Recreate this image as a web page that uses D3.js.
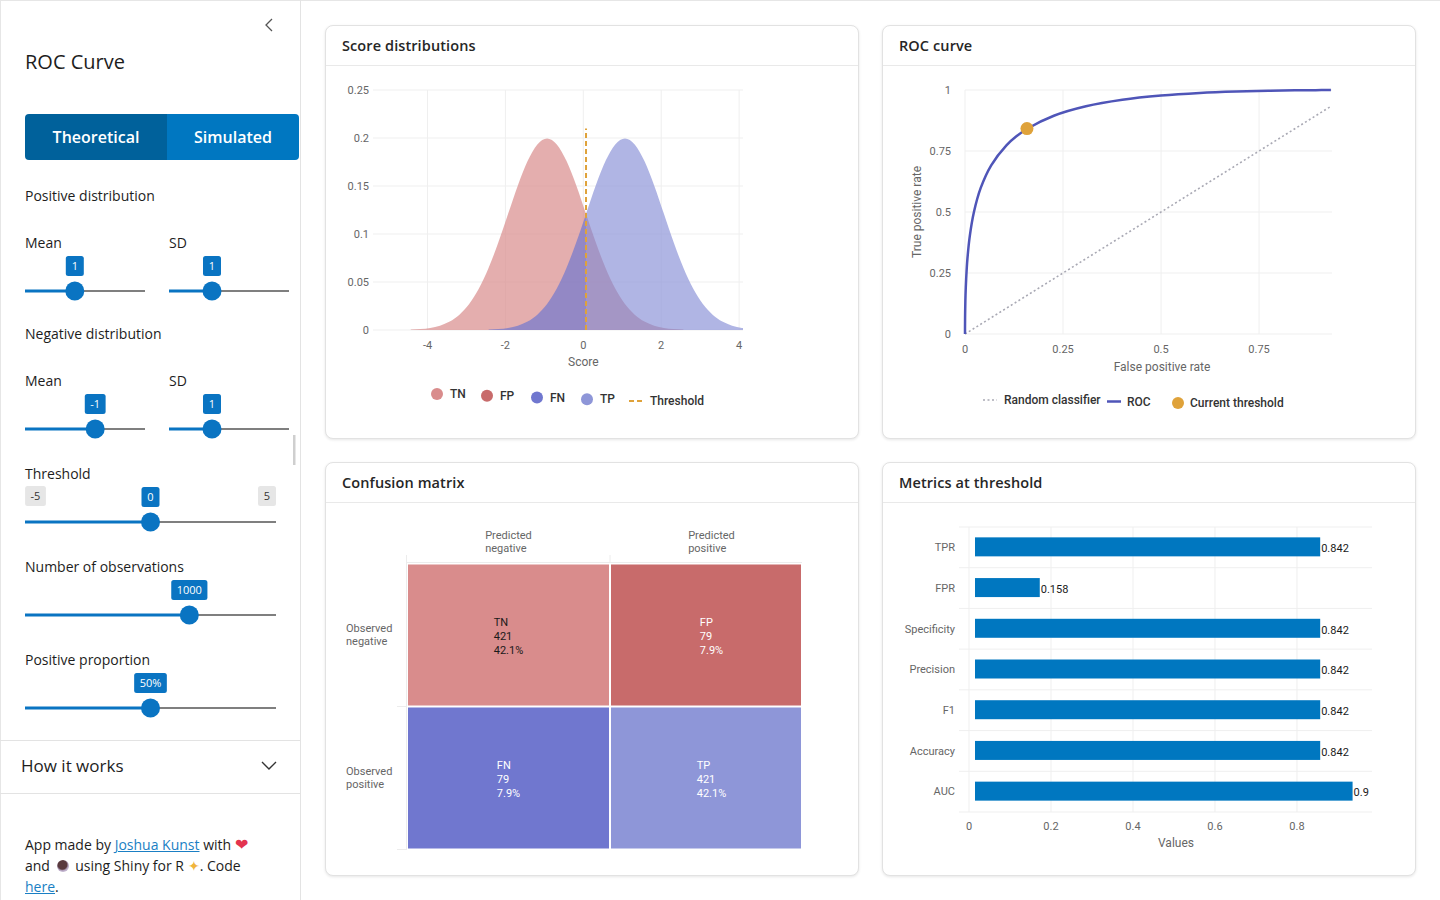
<!DOCTYPE html>
<html>
<head>
<meta charset="utf-8">
<script src="https://cdn.jsdelivr.net/npm/d3@7"></script>
<style>
body { margin:0; width:1440px; height:900px; overflow:hidden; background:#fff; font-family:"Open Sans", sans-serif; color:#1d1d1d; position:relative; }
#frame { position:absolute; left:0; top:0; width:1440px; height:900px; border-top:1px solid #e6e6e6; border-left:1px solid #e6e6e6; box-sizing:border-box; }
#sidebar { position:absolute; left:0; top:0; width:301px; height:900px; border-right:1px solid #e3e3e3; box-sizing:border-box; }
.card { position:absolute; width:534px; height:414px; border:1px solid #e2e2e2; border-radius:8px; box-shadow:0 1px 3px rgba(0,0,0,0.10); background:#fff; box-sizing:border-box; }
.card .hd { height:39px; border-bottom:1px solid #e9e9e9; padding-left:16px; line-height:40px; font-size:14.5px; font-weight:600; color:#262626; letter-spacing:0.1px; }
.btns { position:absolute; left:25px; top:114px; height:46px; display:flex; border-radius:4px; overflow:hidden; }
.btns div { height:46px; line-height:46px; text-align:center; color:#fff; font-size:16px; font-weight:600; }
#foot { position:absolute; left:25px; top:834px; font-size:14px; line-height:21px; color:#1d1d1d; }
#foot a { color:#1a7fc4; text-decoration:underline; }
.heart { color:#e3344f; font-size:16px; }
.cup { display:inline-block; width:12px; height:12px; border-radius:50%; background:radial-gradient(circle at 45% 40%, #5a3a3e 0 45%, #b9a9c6 60%, #e0d8e8 100%); vertical-align:-1px; margin:0 3px; }
#ov { position:absolute; left:0; top:0; }
</style>
</head>
<body>
<div id="frame"></div>
<div id="sidebar"></div>
<div class="btns"><div style="width:142px;background:#00619b">Theoretical</div><div style="width:132px;background:#0077c1">Simulated</div></div>
<div class="card" style="left:325px;top:25px"><div class="hd">Score distributions</div></div>
<div class="card" style="left:882px;top:25px"><div class="hd">ROC curve</div></div>
<div class="card" style="left:325px;top:462px"><div class="hd">Confusion matrix</div></div>
<div class="card" style="left:882px;top:462px"><div class="hd">Metrics at threshold</div></div>
<div id="foot">App made by <a>Joshua Kunst</a> with <span class="heart">&#10084;</span><br>and <span class="cup"></span> using Shiny for R <span style="color:#f0b43c">&#10022;</span>. Code<br><a>here</a>.</div>
<svg id="ov" width="1440" height="900"></svg>
<script>
// score densities (half weight each)
var negScore = [-4.5,-4.25,-4,-3.75,-3.5,-3.25,-3,-2.75,-2.5,-2.25,-2,-1.75,-1.5,-1.25,-1,-0.75,-0.5,-0.25,0,0.25,0.5,0.75,1,1.25,1.5,1.75,2,2.25,2.5];
var negDensity = [0.0004,0.0010,0.0022,0.0045,0.0088,0.0159,0.0270,0.0431,0.0648,0.0913,0.1210,0.1506,0.1760,0.1933,0.1995,0.1933,0.1760,0.1506,0.1210,0.0913,0.0648,0.0431,0.0270,0.0159,0.0088,0.0045,0.0022,0.0010,0.0004];
var posScore = [-2.5,-2.25,-2,-1.75,-1.5,-1.25,-1,-0.75,-0.5,-0.25,0,0.25,0.5,0.75,1,1.25,1.5,1.75,2,2.25,2.5,2.75,3,3.25,3.5,3.75,4,4.25,4.5];
var posDensity = [0.0004,0.0010,0.0022,0.0045,0.0088,0.0159,0.0270,0.0431,0.0648,0.0913,0.1210,0.1506,0.1760,0.1933,0.1995,0.1933,0.1760,0.1506,0.1210,0.0913,0.0648,0.0431,0.0270,0.0159,0.0088,0.0045,0.0022,0.0010,0.0004];
var threshold = 0;
var thresholdTop = 0.21;
var scoreTicksX = [-4,-2,0,2,4];
var scoreTicksY = [0,0.05,0.1,0.15,0.2,0.25];
var scoreLegend = ["TN","FP","FN","TP","Threshold"];

// roc curve
var rocFpr = [0,0.0000,0.0000,0.0002,0.0013,0.0030,0.0062,0.0122,0.0228,0.0401,0.0668,0.1056,0.1303,0.1587,0.2266,0.3085,0.4013,0.5,0.5987,0.6915,0.7734,0.8413,0.8944,0.9332];
var rocTpr = [0,0.0062,0.0228,0.0668,0.1587,0.2266,0.3085,0.4013,0.5,0.5987,0.6915,0.7734,0.8092,0.8413,0.8944,0.9332,0.9599,0.9772,0.9878,0.9938,0.9970,0.9987,0.9994,0.9998];
var randomLine = [0, 0.9332];
var currentPoint = [0.158, 0.842];
var rocTicksX = [0,0.25,0.5,0.75];
var rocTicksY = [0,0.25,0.5,0.75,1];

// confusion matrix
var cmNames = ["TN","FP","FN","TP"];
var cmCounts = [421,79,79,421];
var cmShares = ["42.1%","7.9%","7.9%","42.1%"];
var cmCols = [0,1,0,1];
var cmRows = [0,0,1,1];
var cmColNames = [["Predicted","negative"],["Predicted","positive"]];
var cmRowNames = [["Observed","negative"],["Observed","positive"]];

// metrics
var metricNames = ["TPR","FPR","Specificity","Precision","F1","Accuracy","AUC"];
var metricValues = [0.842,0.158,0.842,0.842,0.842,0.842,0.921];
var metricLabels = ["0.842","0.158","0.842","0.842","0.842","0.842","0.9"];
var metricTicks = [0,0.2,0.4,0.6,0.8];

// sidebar sliders
var sliderValues = [1,1,-1,1,0,1000,50];
var sliderMins = [-1,0.5,-4,0.5,-5,0,0];
var sliderMaxs = [4,2,1,2,5,1500,100];
var sliderTexts = ["1","1","-1","1","0","1000","50%"];

var colors = {TN:"#d98c8c", FP:"#c86b6b", FN:"#7077cf", TP:"#8e96d8", thr:"#dfa23a", roc:"#4f55b8", bar:"#0077c0", blue:"#0a74c2"};
var svg = d3.select("#ov");
var defs = svg.append("defs");
var chartFont = "Roboto, sans-serif";
var fmt = function(d){ return String(+d.toFixed(2)); };

// multi-line text, lines left aligned, block centred on cx (or starting at cx)
function block(g, lines, cx, y0, step, centred, fill){
  var t = g.append("text").attr("font-size",11).attr("fill",fill);
  lines.forEach(function(s,j){ t.append("tspan").attr("x",0).attr("y",y0+j*step).attr("dy",".35em").text(s); });
  var w = t.node().getBBox().width;
  t.selectAll("tspan").attr("x", centred ? cx-w/2 : cx);
  return t;
}

/* ---------- sidebar ---------- */
var side = svg.append("g").attr("font-family","Open Sans, sans-serif").attr("fill","#1d1d1d");
side.append("path").attr("d","M272,19L266,25L272,31").attr("fill","none").attr("stroke","#555").attr("stroke-width",1.3);
side.append("text").attr("x",25).attr("y",62).attr("dy",".35em").attr("font-size",20).text("ROC Curve");
var sideLabels = [["Positive distribution",25,196],["Mean",25,243],["SD",169,243],["Negative distribution",25,334],["Mean",25,381],["SD",169,381],["Threshold",25,474],["Number of observations",25,567],["Positive proportion",25,660]];
side.selectAll("text.lab").data(sideLabels).enter().append("text").attr("class","lab")
  .attr("x",function(d){return d[1];}).attr("y",function(d){return d[2];}).attr("dy",".35em")
  .attr("font-size",14).text(function(d){return d[0];});

var sliderBoxes = [[25,145,291],[169,289,291],[25,145,429],[169,289,429],[25,276,522],[25,276,615],[25,276,708]];
function bubble(g, cx, cy, txt, fill, tc){
  var t = g.append("text").attr("x",cx).attr("y",cy).attr("dy",".35em").attr("text-anchor","middle")
    .attr("font-size",11).attr("fill",tc).text(txt);
  var w = Math.max(18, t.node().getComputedTextLength()+11);
  g.insert("rect","text:last-child").attr("x",cx-w/2).attr("y",cy-10).attr("width",w).attr("height",20).attr("rx",2.5).attr("fill",fill);
}
sliderValues.forEach(function(v,i){
  var b = sliderBoxes[i];
  var sc = d3.scaleLinear().domain([sliderMins[i],sliderMaxs[i]]).range([b[0]+9,b[1]-9]);
  var hx = sc(v);
  var g = side.append("g");
  g.append("line").attr("x1",hx).attr("x2",b[1]).attr("y1",b[2]).attr("y2",b[2]).attr("stroke","#555").attr("stroke-width",1.3);
  g.append("line").attr("x1",b[0]).attr("x2",hx).attr("y1",b[2]).attr("y2",b[2]).attr("stroke",colors.blue).attr("stroke-width",3.2);
  g.append("circle").attr("cx",hx).attr("cy",b[2]).attr("r",9.5).attr("fill",colors.blue);
  if (i === 4) {
    bubble(g.append("g"), b[0]+10.5, b[2]-26, String(sliderMins[i]), "#e6e6e6", "#333");
    bubble(g.append("g"), b[1]-9, b[2]-26, String(sliderMaxs[i]), "#e6e6e6", "#333");
  }
  bubble(g.append("g"), hx, b[2]-25, sliderTexts[i], colors.blue, "#fff");
});
side.append("rect").attr("x",293).attr("y",435).attr("width",2.5).attr("height",30).attr("fill","#cfcfcf");
side.append("line").attr("x1",0).attr("x2",300).attr("y1",740.5).attr("y2",740.5).attr("stroke","#e3e3e3");
side.append("line").attr("x1",0).attr("x2",300).attr("y1",793.5).attr("y2",793.5).attr("stroke","#e3e3e3");
side.append("text").attr("x",21).attr("y",766).attr("dy",".35em").attr("font-size",17).text("How it works");
side.append("path").attr("d","M262,762L269,769L276,762").attr("fill","none").attr("stroke","#333").attr("stroke-width",1.4);

/* ---------- score distributions ---------- */
var sx = d3.scaleLinear().domain([-5.4,4.1]).range([373,743]);
var sy = d3.scaleLinear().domain([0,0.25]).range([330,90]);
var dataShift = 2.7; // series sit a little right of the tick labels
var sc1 = svg.append("g").attr("font-family",chartFont);
sc1.selectAll("line.gy").data(scoreTicksY).enter().append("line")
  .attr("x1",373).attr("x2",743).attr("y1",function(d){return sy(d);}).attr("y2",function(d){return sy(d);})
  .attr("stroke","#efefef");
sc1.selectAll("line.gx").data(scoreTicksX).enter().append("line")
  .attr("y1",90).attr("y2",330).attr("x1",function(d){return sx(d);}).attr("x2",function(d){return sx(d);})
  .attr("stroke","#efefef");
sc1.selectAll("text.ty").data(scoreTicksY).enter().append("text")
  .attr("x",369).attr("y",function(d){return sy(d);}).attr("dy",".35em").attr("text-anchor","end")
  .attr("font-size",11).attr("fill","#666").text(fmt);
sc1.selectAll("text.tx").data(scoreTicksX).enter().append("text")
  .attr("x",function(d){return sx(d);}).attr("y",345).attr("dy",".35em").attr("text-anchor","middle")
  .attr("font-size",11).attr("fill","#666").text(fmt);
sc1.append("text").attr("x",sx(0)).attr("y",362).attr("dy",".35em").attr("text-anchor","middle").attr("font-size",12).attr("fill","#666").text("Score");

defs.append("clipPath").attr("id","cplot").append("rect").attr("x",373).attr("y",80).attr("width",370).attr("height",251);
defs.append("clipPath").attr("id","cl").append("rect").attr("x",373-dataShift).attr("y",80).attr("width",sx(threshold)-373+dataShift).attr("height",251);
defs.append("clipPath").attr("id","cr").append("rect").attr("x",sx(threshold)).attr("y",80).attr("width",743-sx(threshold)).attr("height",251);
var area = d3.area().x(function(d){return sx(d[0]);}).y0(sy(0)).y1(function(d){return sy(d[1]);}).curve(d3.curveMonotoneX);
var negData = d3.zip(negScore,negDensity), posData = d3.zip(posScore,posDensity);
var series = sc1.append("g").attr("clip-path","url(#cplot)").append("g").attr("transform","translate("+dataShift+",0)");
[["TN",negData,"cl"],["FP",negData,"cr"],["FN",posData,"cl"],["TP",posData,"cr"]].forEach(function(p){
  series.append("path").attr("d",area(p[1])).attr("fill",colors[p[0]]).attr("fill-opacity",0.7).attr("clip-path","url(#"+p[2]+")");
});
series.append("line").attr("x1",sx(threshold)).attr("x2",sx(threshold)).attr("y1",sy(0)).attr("y2",sy(thresholdTop))
  .attr("stroke",colors.thr).attr("stroke-width",2).attr("stroke-dasharray","5,3");

var legX = [437,487,537,587,629];
scoreLegend.forEach(function(k,i){
  var y = 394 + i*1.75;
  var g = sc1.append("g");
  if (k === "Threshold") {
    g.append("line").attr("x1",legX[i]).attr("x2",legX[i]+14).attr("y1",y).attr("y2",y).attr("stroke",colors.thr).attr("stroke-width",2).attr("stroke-dasharray","5,3");
    g.append("text").attr("x",legX[i]+21).attr("y",y).attr("dy",".35em").attr("font-size",12).attr("font-weight",500).attr("fill","#333").text(k);
  } else {
    g.append("circle").attr("cx",legX[i]).attr("cy",y).attr("r",6).attr("fill",colors[k]);
    g.append("text").attr("x",legX[i]+13).attr("y",y).attr("dy",".35em").attr("font-size",12).attr("font-weight",500).attr("fill","#333").text(k);
  }
});

/* ---------- ROC curve ---------- */
var rx = d3.scaleLinear().domain([0,0.936]).range([965,1332]);
var ry = d3.scaleLinear().domain([0,1]).range([334,90]);
var rc = svg.append("g").attr("font-family",chartFont);
rc.selectAll("line.gy").data(rocTicksY).enter().append("line")
  .attr("x1",965).attr("x2",1332).attr("y1",function(d){return ry(d);}).attr("y2",function(d){return ry(d);}).attr("stroke","#efefef");
rc.selectAll("line.gx").data(rocTicksX).enter().append("line")
  .attr("y1",90).attr("y2",334).attr("x1",function(d){return rx(d);}).attr("x2",function(d){return rx(d);}).attr("stroke","#efefef");
rc.selectAll("text.ty").data(rocTicksY).enter().append("text")
  .attr("x",951).attr("y",function(d){return ry(d);}).attr("dy",".35em").attr("text-anchor","end").attr("font-size",11).attr("fill","#666").text(fmt);
rc.selectAll("text.tx").data(rocTicksX).enter().append("text")
  .attr("x",function(d){return rx(d);}).attr("y",349).attr("dy",".35em").attr("text-anchor","middle").attr("font-size",11).attr("fill","#666").text(fmt);
rc.append("text").attr("x",1162).attr("y",367).attr("dy",".35em").attr("text-anchor","middle").attr("font-size",12).attr("fill","#666").text("False positive rate");
rc.append("text").attr("transform","translate(917,212) rotate(-90)").attr("dy",".35em").attr("text-anchor","middle").attr("font-size",12).attr("fill","#666").text("True positive rate");
rc.append("line").attr("x1",rx(randomLine[0])).attr("y1",ry(randomLine[0])).attr("x2",rx(randomLine[1])).attr("y2",ry(randomLine[1]))
  .attr("stroke","#a9a9b4").attr("stroke-width",1.6).attr("stroke-dasharray","2,2.5");
var rocLine = d3.line().x(function(d){return rx(d[0]);}).y(function(d){return ry(d[1]);}).curve(d3.curveCatmullRom.alpha(0.5));
rc.append("path").attr("d",rocLine(d3.zip(rocFpr,rocTpr))).attr("fill","none").attr("stroke",colors.roc).attr("stroke-width",2.5);
rc.append("circle").attr("cx",rx(currentPoint[0])).attr("cy",ry(currentPoint[1])).attr("r",6.5).attr("fill",colors.thr);

rc.append("line").attr("x1",983).attr("x2",997).attr("y1",400).attr("y2",400).attr("stroke","#a9a9b4").attr("stroke-width",1.6).attr("stroke-dasharray","2,2.5");
rc.append("text").attr("x",1004).attr("y",400).attr("dy",".35em").attr("font-size",12).attr("font-weight",500).attr("fill","#333").text("Random classifier");
rc.append("line").attr("x1",1107).attr("x2",1121).attr("y1",401.5).attr("y2",401.5).attr("stroke",colors.roc).attr("stroke-width",2.5);
rc.append("text").attr("x",1127).attr("y",401.5).attr("dy",".35em").attr("font-size",12).attr("font-weight",500).attr("fill","#333").text("ROC");
rc.append("circle").attr("cx",1178).attr("cy",403).attr("r",6).attr("fill",colors.thr);
rc.append("text").attr("x",1190).attr("y",403).attr("dy",".35em").attr("font-size",12).attr("font-weight",500).attr("fill","#333").text("Current threshold");

/* ---------- confusion matrix ---------- */
var cx = d3.scaleLinear().domain([-0.5,1.5]).range([407,813]);
var cy = d3.scaleLinear().domain([-0.5,1.5]).range([563.5,849.5]);
var plotRight = 802;
var cm = svg.append("g").attr("font-family",chartFont);
cm.append("line").attr("x1",406.5).attr("x2",406.5).attr("y1",555).attr("y2",850).attr("stroke","#ececec");
cm.append("line").attr("x1",406).attr("x2",plotRight).attr("y1",562.5).attr("y2",562.5).attr("stroke","#ececec");
[0.5,1.5].forEach(function(r){ cm.append("line").attr("x1",397).attr("x2",406).attr("y1",cy(r)).attr("y2",cy(r)).attr("stroke","#ececec"); });
cm.append("line").attr("x1",cx(0.5)).attr("x2",cx(0.5)).attr("y1",555).attr("y2",563).attr("stroke","#ececec");
cmNames.forEach(function(k,i){
  var x0 = cx(cmCols[i]-0.5), x1 = Math.min(cx(cmCols[i]+0.5), plotRight);
  var y0 = cy(cmRows[i]-0.5), y1 = cy(cmRows[i]+0.5);
  cm.append("rect").attr("x",x0+1).attr("y",y0+1).attr("width",x1-x0-2).attr("height",y1-y0-2).attr("fill",colors[k]);
  block(cm, [k, String(cmCounts[i]), cmShares[i]], cx(cmCols[i]), cy(cmRows[i])-13, 14, true, k === "TN" ? "#1a1a1a" : "#fff");
});
cmColNames.forEach(function(lines,c){ block(cm, lines, cx(c), 535, 13, true, "#666"); });
cmRowNames.forEach(function(lines,r){ block(cm, lines, 346, cy(r)-6.5, 13, false, "#666"); });

/* ---------- metrics ---------- */
var mx = d3.scaleLinear().domain([0,0.983]).range([969,1372]);
var my = d3.scaleBand().domain(metricNames).range([527,812]);
var barShift = 6;
var mc = svg.append("g").attr("font-family",chartFont);
var bounds = metricNames.map(function(n){return my(n);}).concat([812]);
mc.selectAll("line.gy").data(bounds).enter().append("line")
  .attr("x1",959).attr("x2",1372).attr("y1",function(d){return d;}).attr("y2",function(d){return d;}).attr("stroke","#efefef");
mc.selectAll("line.gx").data(metricTicks).enter().append("line")
  .attr("y1",527).attr("y2",812).attr("x1",function(d){return mx(d);}).attr("x2",function(d){return mx(d);}).attr("stroke","#efefef");
mc.selectAll("text.tx").data(metricTicks).enter().append("text")
  .attr("x",function(d){return mx(d);}).attr("y",826).attr("dy",".35em").attr("text-anchor","middle").attr("font-size",11).attr("fill","#666").text(fmt);
mc.append("text").attr("x",1176).attr("y",843).attr("dy",".35em").attr("text-anchor","middle").attr("font-size",12).attr("fill","#666").text("Values");
mc.selectAll("text.ty").data(metricNames).enter().append("text")
  .attr("x",955).attr("y",function(d){return my(d)+my.bandwidth()/2;}).attr("dy",".35em").attr("text-anchor","end").attr("font-size",11).attr("fill","#666").text(function(d){return d;});
mc.selectAll("rect.bar").data(metricValues).enter().append("rect")
  .attr("x",mx(0)+barShift).attr("y",function(d,i){return my(metricNames[i])+my.bandwidth()/2-10;})
  .attr("width",function(d){return mx(d)-mx(0);}).attr("height",19).attr("fill",colors.bar);
mc.selectAll("text.val").data(metricValues).enter().append("text")
  .attr("x",function(d){return mx(d)+barShift+1;}).attr("y",function(d,i){return my(metricNames[i])+my.bandwidth()/2+1;})
  .attr("dy",".35em").attr("font-size",11).attr("fill","#1a1a1a").text(function(d,i){return metricLabels[i];});
</script>
</body>
</html>
